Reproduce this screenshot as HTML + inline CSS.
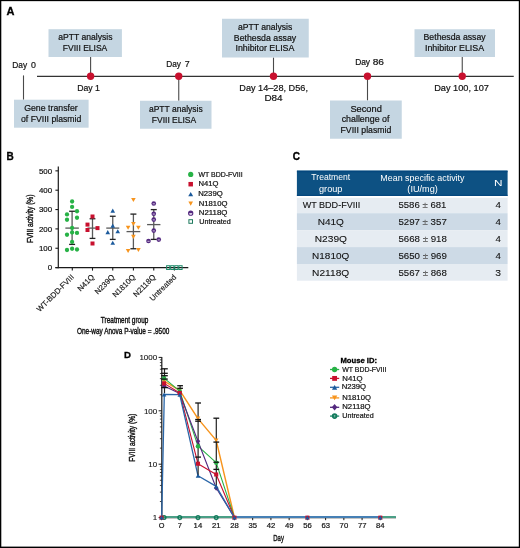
<!DOCTYPE html>
<html><head><meta charset="utf-8"><style>
html,body{margin:0;padding:0;background:#fff;}
svg{display:block;font-family:"Liberation Sans",sans-serif;will-change:transform;}
</style></head><body>
<svg width="520" height="548" viewBox="0 0 520 548">
<rect x="0" y="0" width="520" height="548" fill="#fff"/>
<text x="6.4" y="14.9" style="font-size:11px;font-weight:bold" fill="#000" stroke="#000" stroke-width="0.3">A</text>
<line x1="37" y1="76.3" x2="513.75" y2="76.3" stroke="#333" stroke-width="1.3" />
<line x1="23.5" y1="75.4" x2="23.5" y2="99.7" stroke="#4a4a4a" stroke-width="1.1" />
<line x1="90.6" y1="57" x2="90.6" y2="76.3" stroke="#4a4a4a" stroke-width="1.1" />
<line x1="178.75" y1="76.3" x2="178.75" y2="100.75" stroke="#4a4a4a" stroke-width="1.1" />
<line x1="273.5" y1="57.5" x2="273.5" y2="76.3" stroke="#4a4a4a" stroke-width="1.1" />
<line x1="367.5" y1="76.3" x2="367.5" y2="100.5" stroke="#4a4a4a" stroke-width="1.1" />
<line x1="462.25" y1="57" x2="462.25" y2="76.3" stroke="#4a4a4a" stroke-width="1.1" />
<circle cx="90.6" cy="76.3" r="3.7" fill="#c8102e"/>
<circle cx="178.75" cy="76.3" r="3.7" fill="#c8102e"/>
<circle cx="273.5" cy="76.3" r="3.7" fill="#c8102e"/>
<circle cx="367.5" cy="76.3" r="3.7" fill="#c8102e"/>
<circle cx="462.25" cy="76.3" r="3.7" fill="#c8102e"/>
<rect x="48.5" y="29.2" width="73.40" height="27.80" fill="#c5d6e2"/>
<rect x="14" y="99.7" width="74.60" height="28.00" fill="#c5d6e2"/>
<rect x="140" y="100.75" width="71.50" height="28.00" fill="#c5d6e2"/>
<rect x="222" y="18.75" width="86.75" height="38.75" fill="#c5d6e2"/>
<rect x="330" y="100.5" width="71.75" height="38.25" fill="#c5d6e2"/>
<rect x="414.5" y="29.25" width="80.50" height="27.75" fill="#c5d6e2"/>
<text x="0" y="0" transform="translate(58.16,40.40) scale(0.9662,1)" style="font-size:8.9px;" fill="#111111" stroke="#111111" stroke-width="0.2">aPTT analysis</text>
<text x="0" y="0" transform="translate(62.82,51.40) scale(0.9575,1)" style="font-size:8.9px;" fill="#111111" stroke="#111111" stroke-width="0.2">FVIII ELISA</text>
<text x="0" y="0" transform="translate(24.16,111.10) scale(0.9870,1)" style="font-size:8.9px;" fill="#111111" stroke="#111111" stroke-width="0.2">Gene transfer</text>
<text x="0" y="0" transform="translate(21.05,122.00) scale(0.9758,1)" style="font-size:8.9px;" fill="#111111" stroke="#111111" stroke-width="0.2">of FVIII plasmid</text>
<text x="0" y="0" transform="translate(148.91,112.30) scale(0.9581,1)" style="font-size:8.9px;" fill="#111111" stroke="#111111" stroke-width="0.2">aPTT analysis</text>
<text x="0" y="0" transform="translate(151.82,123.10) scale(0.9564,1)" style="font-size:8.9px;" fill="#111111" stroke="#111111" stroke-width="0.2">FVIII ELISA</text>
<text x="0" y="0" transform="translate(237.91,29.90) scale(0.9671,1)" style="font-size:8.9px;" fill="#111111" stroke="#111111" stroke-width="0.2">aPTT analysis</text>
<text x="0" y="0" transform="translate(233.80,40.55) scale(0.9862,1)" style="font-size:8.9px;" fill="#111111" stroke="#111111" stroke-width="0.2">Bethesda assay</text>
<text x="0" y="0" transform="translate(235.45,51.20) scale(0.9947,1)" style="font-size:8.9px;" fill="#111111" stroke="#111111" stroke-width="0.2">Inhibitor ELISA</text>
<text x="0" y="0" transform="translate(350.38,111.90) scale(1.0431,1)" style="font-size:8.9px;" fill="#111111" stroke="#111111" stroke-width="0.2">Second</text>
<text x="0" y="0" transform="translate(341.65,122.45) scale(0.9967,1)" style="font-size:8.9px;" fill="#111111" stroke="#111111" stroke-width="0.2">challenge of</text>
<text x="0" y="0" transform="translate(340.55,133.00) scale(0.9775,1)" style="font-size:8.9px;" fill="#111111" stroke="#111111" stroke-width="0.2">FVIII plasmid</text>
<text x="0" y="0" transform="translate(423.55,40.30) scale(0.9822,1)" style="font-size:8.9px;" fill="#111111" stroke="#111111" stroke-width="0.2">Bethesda assay</text>
<text x="0" y="0" transform="translate(424.95,51.25) scale(0.9989,1)" style="font-size:8.9px;" fill="#111111" stroke="#111111" stroke-width="0.2">Inhibitor ELISA</text>
<text x="0" y="0" transform="translate(12.23,67.85) scale(0.8982,1)" style="font-size:9.3px;" fill="#111111" stroke="#111111" stroke-width="0.2">Day</text>
<text x="0" y="0" transform="translate(77.20,90.70) scale(0.9393,1)" style="font-size:9.3px;" fill="#111111" stroke="#111111" stroke-width="0.2">Day</text>
<text x="0" y="0" transform="translate(166.24,67.40) scale(0.8887,1)" style="font-size:9.3px;" fill="#111111" stroke="#111111" stroke-width="0.2">Day</text>
<text x="0" y="0" transform="translate(355.13,65.35) scale(0.9045,1)" style="font-size:9.3px;" fill="#111111" stroke="#111111" stroke-width="0.2">Day</text>
<text x="0" y="0" transform="translate(372.64,65.35) scale(1.0910,1)" style="font-size:9.3px;" fill="#111111" stroke="#111111" stroke-width="0.2">86</text>
<text x="0" y="0" transform="translate(239.27,90.80) scale(0.9851,1)" style="font-size:9.3px;" fill="#111111" stroke="#111111" stroke-width="0.2">Day 14–28, D56,</text>
<text x="0" y="0" transform="translate(264.41,101.40) scale(1.0659,1)" style="font-size:9.3px;" fill="#111111" stroke="#111111" stroke-width="0.2">D84</text>
<text x="0" y="0" transform="translate(434.16,90.50) scale(0.9903,1)" style="font-size:9.3px;" fill="#111111" stroke="#111111" stroke-width="0.2">Day 100, 107</text>
<text x="0" y="0" transform="translate(30.93,67.85) scale(0.9500,1)" style="font-size:9.3px;" fill="#111111" stroke="#111111" stroke-width="0.2">0</text>
<text x="0" y="0" transform="translate(95.02,90.70) scale(0.9500,1)" style="font-size:9.3px;" fill="#111111" stroke="#111111" stroke-width="0.2">1</text>
<text x="0" y="0" transform="translate(184.65,67.40) scale(0.9500,1)" style="font-size:9.3px;" fill="#111111" stroke="#111111" stroke-width="0.2">7</text>
<text x="6.6" y="160.1" style="font-size:10px;font-weight:bold" fill="#000" stroke="#000" stroke-width="0.3">B</text>
<line x1="58.3" y1="166.5" x2="58.3" y2="268.20000000000005" stroke="#1a1a1a" stroke-width="1.2" />
<line x1="55.4" y1="267.6" x2="58.3" y2="267.6" stroke="#1a1a1a" stroke-width="1.1" />
<text x="0" y="0" transform="translate(47.69,270.35) scale(1.0000,1)" style="font-size:7.9px;" fill="#111111" stroke="#111111" stroke-width="0.2">0</text>
<line x1="55.4" y1="248.25000000000003" x2="58.3" y2="248.25000000000003" stroke="#1a1a1a" stroke-width="1.1" />
<text x="0" y="0" transform="translate(38.92,251.00) scale(1.0000,1)" style="font-size:7.9px;" fill="#111111" stroke="#111111" stroke-width="0.2">100</text>
<line x1="55.4" y1="228.90000000000003" x2="58.3" y2="228.90000000000003" stroke="#1a1a1a" stroke-width="1.1" />
<text x="0" y="0" transform="translate(38.92,231.65) scale(1.0000,1)" style="font-size:7.9px;" fill="#111111" stroke="#111111" stroke-width="0.2">200</text>
<line x1="55.4" y1="209.55" x2="58.3" y2="209.55" stroke="#1a1a1a" stroke-width="1.1" />
<text x="0" y="0" transform="translate(38.92,212.30) scale(1.0000,1)" style="font-size:7.9px;" fill="#111111" stroke="#111111" stroke-width="0.2">300</text>
<line x1="55.4" y1="190.20000000000002" x2="58.3" y2="190.20000000000002" stroke="#1a1a1a" stroke-width="1.1" />
<text x="0" y="0" transform="translate(38.92,192.95) scale(1.0000,1)" style="font-size:7.9px;" fill="#111111" stroke="#111111" stroke-width="0.2">400</text>
<line x1="55.4" y1="170.85000000000002" x2="58.3" y2="170.85000000000002" stroke="#1a1a1a" stroke-width="1.1" />
<text x="0" y="0" transform="translate(38.92,173.60) scale(1.0000,1)" style="font-size:7.9px;" fill="#111111" stroke="#111111" stroke-width="0.2">500</text>
<line x1="55.4" y1="267.6" x2="188.3" y2="267.6" stroke="#1a1a1a" stroke-width="1.2" />
<line x1="72.3" y1="267.6" x2="72.3" y2="270.6" stroke="#1a1a1a" stroke-width="1.1" />
<line x1="92.5" y1="267.6" x2="92.5" y2="270.6" stroke="#1a1a1a" stroke-width="1.1" />
<line x1="112.75" y1="267.6" x2="112.75" y2="270.6" stroke="#1a1a1a" stroke-width="1.1" />
<line x1="133.4" y1="267.6" x2="133.4" y2="270.6" stroke="#1a1a1a" stroke-width="1.1" />
<line x1="153.75" y1="267.6" x2="153.75" y2="270.6" stroke="#1a1a1a" stroke-width="1.1" />
<line x1="174.4" y1="267.6" x2="174.4" y2="270.6" stroke="#1a1a1a" stroke-width="1.1" />
<line x1="72.1" y1="211.25" x2="72.1" y2="244.4" stroke="#5a5a5a" stroke-width="1.3" />
<line x1="65.35" y1="228.1" x2="78.85" y2="228.1" stroke="#5a5a5a" stroke-width="1.3" />
<line x1="69.1" y1="211.25" x2="75.1" y2="211.25" stroke="#222" stroke-width="1.3" />
<line x1="69.1" y1="244.4" x2="75.1" y2="244.4" stroke="#222" stroke-width="1.3" />
<circle cx="72.1" cy="201.5" r="2.15" fill="#27b246"/>
<circle cx="72.1" cy="206.9" r="2.15" fill="#27b246"/>
<circle cx="77" cy="211.25" r="2.15" fill="#27b246"/>
<circle cx="67" cy="214.4" r="2.15" fill="#27b246"/>
<circle cx="77" cy="217.75" r="2.15" fill="#27b246"/>
<circle cx="67" cy="219.75" r="2.15" fill="#27b246"/>
<circle cx="72.1" cy="227.9" r="2.15" fill="#27b246"/>
<circle cx="72.1" cy="232.5" r="2.15" fill="#27b246"/>
<circle cx="77" cy="232.9" r="2.15" fill="#27b246"/>
<circle cx="67" cy="234.75" r="2.15" fill="#27b246"/>
<circle cx="72.1" cy="241.9" r="2.15" fill="#27b246"/>
<circle cx="67" cy="250" r="2.15" fill="#27b246"/>
<circle cx="72.1" cy="248.75" r="2.15" fill="#27b246"/>
<circle cx="77" cy="249.5" r="2.15" fill="#27b246"/>
<line x1="92.5" y1="218.75" x2="92.5" y2="238.4" stroke="#5a5a5a" stroke-width="1.3" />
<line x1="87.5" y1="228.1" x2="97.5" y2="228.1" stroke="#5a5a5a" stroke-width="1.3" />
<line x1="89.6" y1="218.75" x2="95.4" y2="218.75" stroke="#222" stroke-width="1.3" />
<line x1="89.6" y1="238.4" x2="95.4" y2="238.4" stroke="#222" stroke-width="1.3" />
<rect x="90.5" y="214.5" width="4" height="4" fill="#c8102e"/>
<rect x="85.5" y="222.6" width="4" height="4" fill="#c8102e"/>
<rect x="85.5" y="228" width="4" height="4" fill="#c8102e"/>
<rect x="95.5" y="226.1" width="4" height="4" fill="#c8102e"/>
<rect x="90.5" y="241.5" width="4" height="4" fill="#c8102e"/>
<line x1="112.75" y1="216.25" x2="112.75" y2="239.4" stroke="#5a5a5a" stroke-width="1.3" />
<line x1="106.25" y1="228.1" x2="119.25" y2="228.1" stroke="#5a5a5a" stroke-width="1.3" />
<line x1="109.85" y1="216.25" x2="115.65" y2="216.25" stroke="#222" stroke-width="1.3" />
<line x1="109.85" y1="239.4" x2="115.65" y2="239.4" stroke="#222" stroke-width="1.3" />
<polygon points="110.45,212.67 115.05,212.67 112.75,208.53" fill="#1b5a9c"/>
<polygon points="110.45,227.67 115.05,227.67 112.75,223.53" fill="#1b5a9c"/>
<polygon points="105.45,234.17 110.05,234.17 107.75,230.03" fill="#1b5a9c"/>
<polygon points="115.45,233.32 120.05,233.32 117.75,229.18" fill="#1b5a9c"/>
<polygon points="110.45,244.82 115.05,244.82 112.75,240.68" fill="#1b5a9c"/>
<line x1="133.4" y1="214.1" x2="133.4" y2="248.75" stroke="#5a5a5a" stroke-width="1.3" />
<line x1="126.525" y1="231.6" x2="140.275" y2="231.6" stroke="#5a5a5a" stroke-width="1.3" />
<line x1="130.4" y1="214.1" x2="136.4" y2="214.1" stroke="#222" stroke-width="1.3" />
<line x1="130.4" y1="248.75" x2="136.4" y2="248.75" stroke="#222" stroke-width="1.3" />
<polygon points="131.1,197.93 135.70000000000002,197.93 133.4,202.07" fill="#f7941d"/>
<polygon points="131.1,221.93 135.70000000000002,221.93 133.4,226.07" fill="#f7941d"/>
<polygon points="125.8,225.68 130.4,225.68 128.1,229.82" fill="#f7941d"/>
<polygon points="136.1,225.68 140.70000000000002,225.68 138.4,229.82" fill="#f7941d"/>
<polygon points="131.1,234.83 135.70000000000002,234.83 133.4,238.97" fill="#f7941d"/>
<polygon points="125.8,248.93 130.4,248.93 128.1,253.07" fill="#f7941d"/>
<polygon points="136.1,247.93 140.70000000000002,247.93 138.4,252.07" fill="#f7941d"/>
<line x1="153.75" y1="209.6" x2="153.75" y2="239.4" stroke="#5a5a5a" stroke-width="1.3" />
<line x1="147.075" y1="224.6" x2="160.425" y2="224.6" stroke="#5a5a5a" stroke-width="1.3" />
<line x1="150.75" y1="209.6" x2="156.75" y2="209.6" stroke="#222" stroke-width="1.3" />
<line x1="150.75" y1="239.4" x2="156.75" y2="239.4" stroke="#222" stroke-width="1.3" />
<circle cx="153.75" cy="203.5" r="2.3" fill="#53287f"/>
<line x1="152.65" y1="203.8" x2="154.85" y2="203.8" stroke="#e8e0f0" stroke-width="0.8"/>
<circle cx="153.75" cy="213.75" r="2.3" fill="#53287f"/>
<line x1="152.65" y1="214.05" x2="154.85" y2="214.05" stroke="#e8e0f0" stroke-width="0.8"/>
<circle cx="153.75" cy="219.6" r="2.3" fill="#53287f"/>
<line x1="152.65" y1="219.9" x2="154.85" y2="219.9" stroke="#e8e0f0" stroke-width="0.8"/>
<circle cx="153.75" cy="230.6" r="2.3" fill="#53287f"/>
<line x1="152.65" y1="230.9" x2="154.85" y2="230.9" stroke="#e8e0f0" stroke-width="0.8"/>
<circle cx="148.5" cy="241" r="2.3" fill="#53287f"/>
<line x1="147.4" y1="241.3" x2="149.6" y2="241.3" stroke="#e8e0f0" stroke-width="0.8"/>
<circle cx="158.75" cy="239.6" r="2.3" fill="#53287f"/>
<line x1="157.65" y1="239.9" x2="159.85" y2="239.9" stroke="#e8e0f0" stroke-width="0.8"/>
<rect x="166.6" y="265.70000000000005" width="3.2" height="3.8" fill="none" stroke="#1e8a6a" stroke-width="1"/>
<rect x="170.70000000000002" y="265.70000000000005" width="3.2" height="3.8" fill="none" stroke="#1e8a6a" stroke-width="1"/>
<rect x="174.8" y="265.70000000000005" width="3.2" height="3.8" fill="none" stroke="#1e8a6a" stroke-width="1"/>
<rect x="178.9" y="265.70000000000005" width="3.2" height="3.8" fill="none" stroke="#1e8a6a" stroke-width="1"/>
<text x="0" y="0" transform="translate(74.6,277.6) rotate(-45)" text-anchor="end" style="font-size:7.7px" fill="#111111" stroke="#1a1a1a" stroke-width="0.15">WT-BDD-FVIII</text>
<text x="0" y="0" transform="translate(94.8,277.6) rotate(-45)" text-anchor="end" style="font-size:7.7px" fill="#111111" stroke="#1a1a1a" stroke-width="0.15">N41Q</text>
<text x="0" y="0" transform="translate(115.05,277.6) rotate(-45)" text-anchor="end" style="font-size:7.7px" fill="#111111" stroke="#1a1a1a" stroke-width="0.15">N239Q</text>
<text x="0" y="0" transform="translate(135.70000000000002,277.6) rotate(-45)" text-anchor="end" style="font-size:7.7px" fill="#111111" stroke="#1a1a1a" stroke-width="0.15">N1810Q</text>
<text x="0" y="0" transform="translate(156.05,277.6) rotate(-45)" text-anchor="end" style="font-size:7.7px" fill="#111111" stroke="#1a1a1a" stroke-width="0.15">N2118Q</text>
<text x="0" y="0" transform="translate(176.70000000000002,277.6) rotate(-45)" text-anchor="end" style="font-size:7.7px" fill="#111111" stroke="#1a1a1a" stroke-width="0.15">Untreated</text>
<circle cx="190.7" cy="174.4" r="2.6" fill="#27b246"/>
<rect x="188.45" y="181.95" width="4.5" height="4.5" fill="#c8102e"/>
<polygon points="188.25,196.305 193.14999999999998,196.305 190.7,191.89499999999998" fill="#1b5a9c"/>
<polygon points="188.35,201.48499999999999 193.04999999999998,201.48499999999999 190.7,205.715" fill="#f7941d"/>
<circle cx="190.7" cy="213.2" r="2.1" fill="#fff" stroke="#53287f" stroke-width="1.1"/>
<path d="M188.6,213.3 A2.1,2.1 0 0 1 192.79999999999998,213.3 Z" fill="#53287f"/>
<rect x="188.89999999999998" y="219.7" width="3.6" height="3.6" fill="none" stroke="#1e7a5e" stroke-width="1.0"/>
<text x="0" y="0" transform="translate(198.47,176.50) scale(1.0226,1)" style="font-size:6.8px;" fill="#111111" stroke="#111111" stroke-width="0.2">WT BDD-FVIII</text>
<text x="0" y="0" transform="translate(198.59,186.10) scale(1.1244,1)" style="font-size:6.8px;" fill="#111111" stroke="#111111" stroke-width="0.2">N41Q</text>
<text x="0" y="0" transform="translate(198.18,195.90) scale(1.1416,1)" style="font-size:6.8px;" fill="#111111" stroke="#111111" stroke-width="0.2">N239Q</text>
<text x="0" y="0" transform="translate(198.79,205.80) scale(1.1290,1)" style="font-size:6.8px;" fill="#111111" stroke="#111111" stroke-width="0.2">N1810Q</text>
<text x="0" y="0" transform="translate(198.77,215.30) scale(1.1514,1)" style="font-size:6.8px;" fill="#111111" stroke="#111111" stroke-width="0.2">N2118Q</text>
<text x="0" y="0" transform="translate(199.37,224.00) scale(1.0484,1)" style="font-size:6.8px;" fill="#111111" stroke="#111111" stroke-width="0.2">Untreated</text>
<text x="0" y="0" transform="translate(100.87,323.30) scale(0.7421,1)" style="font-size:8.7px;" fill="#111111" stroke="#111111" stroke-width="0.4">Treatment group</text>
<text x="0" y="0" transform="translate(77.01,334.30) scale(0.7392,1)" style="font-size:8.7px;" fill="#111111" stroke="#111111" stroke-width="0.4">One-way Anova P-value = .9500</text>
<g transform="translate(32.9,218.65) rotate(-90)"><text x="0" y="0" transform="scale(0.7565,1) translate(-32.10,0)" style="font-size:8.8px" fill="#111111" stroke="#111111" stroke-width="0.4">FVIII activity (%)</text></g>
<text x="292.8" y="160" style="font-size:10px;font-weight:bold" fill="#000" stroke="#000" stroke-width="0.35">C</text>
<rect x="296.9" y="170.4" width="210.70" height="25.60" fill="#0d5183"/>
<rect x="296.9" y="171.2" width="210.70" height="1.00" fill="#03457d"/>
<rect x="296.9" y="194.8" width="210.70" height="1.00" fill="#03457d"/>
<rect x="296.9" y="196.0" width="210.70" height="17.20" fill="#e6ecf2"/>
<rect x="296.9" y="213.2" width="210.70" height="17.00" fill="#cddae6"/>
<rect x="296.9" y="230.2" width="210.70" height="16.90" fill="#e6ecf2"/>
<rect x="296.9" y="247.1" width="210.70" height="16.90" fill="#cddae6"/>
<rect x="296.9" y="264.0" width="210.70" height="16.70" fill="#e6ecf2"/>
<rect x="296.9" y="196.0" width="210.70" height="1.80" fill="#ffffff"/>
<text x="0" y="0" transform="translate(311.33,180.40) scale(0.9169,1)" style="font-size:9.4px;" fill="#fff" >Treatment</text>
<text x="0" y="0" transform="translate(319.03,191.60) scale(0.9757,1)" style="font-size:9.4px;" fill="#fff" >group</text>
<text x="0" y="0" transform="translate(380.29,180.50) scale(0.9492,1)" style="font-size:9.4px;" fill="#fff" >Mean specific activity</text>
<text x="0" y="0" transform="translate(407.35,191.50) scale(0.9743,1)" style="font-size:9.4px;" fill="#fff" >(IU/mg)</text>
<text x="0" y="0" transform="translate(493.96,186.40) scale(1.2538,1)" style="font-size:9.4px;" fill="#fff" >N</text>
<text x="0" y="0" transform="translate(302.65,207.70) scale(0.9620,1)" style="font-size:9.4px;" fill="#111111" stroke="#111" stroke-width="0.1">WT BDD-FVIII</text>
<text x="0" y="0" transform="translate(398.42,207.70) scale(1.0227,1)" style="font-size:9.4px;" fill="#111111" stroke="#111" stroke-width="0.1">5586 <tspan fill="#808080">±</tspan> 681</text>
<text x="0" y="0" transform="translate(495.51,207.70) scale(1.0322,1)" style="font-size:9.4px;" fill="#111111" stroke="#111" stroke-width="0.1">4</text>
<text x="0" y="0" transform="translate(317.70,224.65) scale(1.0703,1)" style="font-size:9.4px;" fill="#111111" stroke="#111" stroke-width="0.1">N41Q</text>
<text x="0" y="0" transform="translate(398.41,224.65) scale(1.0302,1)" style="font-size:9.4px;" fill="#111111" stroke="#111" stroke-width="0.1">5297 <tspan fill="#808080">±</tspan> 357</text>
<text x="0" y="0" transform="translate(495.51,224.65) scale(1.0322,1)" style="font-size:9.4px;" fill="#111111" stroke="#111" stroke-width="0.1">4</text>
<text x="0" y="0" transform="translate(314.79,241.60) scale(1.0813,1)" style="font-size:9.4px;" fill="#111111" stroke="#111" stroke-width="0.1">N239Q</text>
<text x="0" y="0" transform="translate(398.41,241.60) scale(1.0324,1)" style="font-size:9.4px;" fill="#111111" stroke="#111" stroke-width="0.1">5668 <tspan fill="#808080">±</tspan> 918</text>
<text x="0" y="0" transform="translate(495.51,241.60) scale(1.0322,1)" style="font-size:9.4px;" fill="#111111" stroke="#111" stroke-width="0.1">4</text>
<text x="0" y="0" transform="translate(312.10,258.55) scale(1.0624,1)" style="font-size:9.4px;" fill="#111111" stroke="#111" stroke-width="0.1">N1810Q</text>
<text x="0" y="0" transform="translate(398.41,258.55) scale(1.0335,1)" style="font-size:9.4px;" fill="#111111" stroke="#111" stroke-width="0.1">5650 <tspan fill="#808080">±</tspan> 969</text>
<text x="0" y="0" transform="translate(495.51,258.55) scale(1.0322,1)" style="font-size:9.4px;" fill="#111111" stroke="#111" stroke-width="0.1">4</text>
<text x="0" y="0" transform="translate(312.09,275.50) scale(1.0834,1)" style="font-size:9.4px;" fill="#111111" stroke="#111" stroke-width="0.1">N2118Q</text>
<text x="0" y="0" transform="translate(398.41,275.50) scale(1.0324,1)" style="font-size:9.4px;" fill="#111111" stroke="#111" stroke-width="0.1">5567 <tspan fill="#808080">±</tspan> 868</text>
<text x="0" y="0" transform="translate(495.29,275.50) scale(1.0974,1)" style="font-size:9.4px;" fill="#111111" stroke="#111" stroke-width="0.1">3</text>
<text x="124.1" y="357.5" style="font-size:9.6px;font-weight:bold" fill="#000" stroke="#000" stroke-width="0.3">D</text>
<line x1="161.8" y1="357" x2="161.8" y2="517.6" stroke="#1a1a1a" stroke-width="1.2" />
<line x1="158.6" y1="517.6" x2="161.8" y2="517.6" stroke="#1a1a1a" stroke-width="1.0" />
<line x1="158.6" y1="464.20000000000005" x2="161.8" y2="464.20000000000005" stroke="#1a1a1a" stroke-width="1.0" />
<line x1="158.6" y1="410.8" x2="161.8" y2="410.8" stroke="#1a1a1a" stroke-width="1.0" />
<line x1="158.6" y1="357.40000000000003" x2="161.8" y2="357.40000000000003" stroke="#1a1a1a" stroke-width="1.0" />
<line x1="159.9" y1="501.5249982315434" x2="161.8" y2="501.5249982315434" stroke="#1a1a1a" stroke-width="0.8" />
<line x1="159.9" y1="492.12172499797003" x2="161.8" y2="492.12172499797003" stroke="#1a1a1a" stroke-width="0.8" />
<line x1="159.9" y1="485.44999646308685" x2="161.8" y2="485.44999646308685" stroke="#1a1a1a" stroke-width="0.8" />
<line x1="159.9" y1="480.2750017684566" x2="161.8" y2="480.2750017684566" stroke="#1a1a1a" stroke-width="0.8" />
<line x1="159.9" y1="476.0467232295135" x2="161.8" y2="476.0467232295135" stroke="#1a1a1a" stroke-width="0.8" />
<line x1="159.9" y1="472.47176466323873" x2="161.8" y2="472.47176466323873" stroke="#1a1a1a" stroke-width="0.8" />
<line x1="159.9" y1="469.37499469463023" x2="161.8" y2="469.37499469463023" stroke="#1a1a1a" stroke-width="0.8" />
<line x1="159.9" y1="466.64344999594005" x2="161.8" y2="466.64344999594005" stroke="#1a1a1a" stroke-width="0.8" />
<line x1="159.9" y1="448.12499823154343" x2="161.8" y2="448.12499823154343" stroke="#1a1a1a" stroke-width="0.8" />
<line x1="159.9" y1="438.72172499797006" x2="161.8" y2="438.72172499797006" stroke="#1a1a1a" stroke-width="0.8" />
<line x1="159.9" y1="432.0499964630868" x2="161.8" y2="432.0499964630868" stroke="#1a1a1a" stroke-width="0.8" />
<line x1="159.9" y1="426.8750017684566" x2="161.8" y2="426.8750017684566" stroke="#1a1a1a" stroke-width="0.8" />
<line x1="159.9" y1="422.64672322951344" x2="161.8" y2="422.64672322951344" stroke="#1a1a1a" stroke-width="0.8" />
<line x1="159.9" y1="419.0717646632387" x2="161.8" y2="419.0717646632387" stroke="#1a1a1a" stroke-width="0.8" />
<line x1="159.9" y1="415.97499469463025" x2="161.8" y2="415.97499469463025" stroke="#1a1a1a" stroke-width="0.8" />
<line x1="159.9" y1="413.24344999594007" x2="161.8" y2="413.24344999594007" stroke="#1a1a1a" stroke-width="0.8" />
<line x1="159.9" y1="394.7249982315434" x2="161.8" y2="394.7249982315434" stroke="#1a1a1a" stroke-width="0.8" />
<line x1="159.9" y1="385.32172499797" x2="161.8" y2="385.32172499797" stroke="#1a1a1a" stroke-width="0.8" />
<line x1="159.9" y1="378.64999646308684" x2="161.8" y2="378.64999646308684" stroke="#1a1a1a" stroke-width="0.8" />
<line x1="159.9" y1="373.47500176845665" x2="161.8" y2="373.47500176845665" stroke="#1a1a1a" stroke-width="0.8" />
<line x1="159.9" y1="369.24672322951346" x2="161.8" y2="369.24672322951346" stroke="#1a1a1a" stroke-width="0.8" />
<line x1="159.9" y1="365.6717646632387" x2="161.8" y2="365.6717646632387" stroke="#1a1a1a" stroke-width="0.8" />
<line x1="159.9" y1="362.5749946946302" x2="161.8" y2="362.5749946946302" stroke="#1a1a1a" stroke-width="0.8" />
<line x1="159.9" y1="359.8434499959401" x2="161.8" y2="359.8434499959401" stroke="#1a1a1a" stroke-width="0.8" />
<text x="0" y="0" transform="translate(139.42,360.10) scale(1.0500,1)" style="font-size:7.6px;" fill="#111111" stroke="#111" stroke-width="0.1">1000</text>
<text x="0" y="0" transform="translate(143.89,413.50) scale(1.0500,1)" style="font-size:7.6px;" fill="#111111" stroke="#111" stroke-width="0.1">100</text>
<text x="0" y="0" transform="translate(148.32,466.90) scale(1.0500,1)" style="font-size:7.6px;" fill="#111111" stroke="#111" stroke-width="0.1">10</text>
<text x="0" y="0" transform="translate(152.83,520.30) scale(1.0500,1)" style="font-size:7.6px;" fill="#111111" stroke="#111" stroke-width="0.1">1</text>
<line x1="161.5" y1="517.6" x2="396" y2="517.6" stroke="#1a1a1a" stroke-width="1.2" />
<line x1="161.5" y1="517.6" x2="161.5" y2="520.2" stroke="#1a1a1a" stroke-width="1.0" />
<line x1="179.735" y1="517.6" x2="179.735" y2="520.2" stroke="#1a1a1a" stroke-width="1.0" />
<line x1="197.97" y1="517.6" x2="197.97" y2="520.2" stroke="#1a1a1a" stroke-width="1.0" />
<line x1="216.20499999999998" y1="517.6" x2="216.20499999999998" y2="520.2" stroke="#1a1a1a" stroke-width="1.0" />
<line x1="234.44" y1="517.6" x2="234.44" y2="520.2" stroke="#1a1a1a" stroke-width="1.0" />
<line x1="252.675" y1="517.6" x2="252.675" y2="520.2" stroke="#1a1a1a" stroke-width="1.0" />
<line x1="270.90999999999997" y1="517.6" x2="270.90999999999997" y2="520.2" stroke="#1a1a1a" stroke-width="1.0" />
<line x1="289.145" y1="517.6" x2="289.145" y2="520.2" stroke="#1a1a1a" stroke-width="1.0" />
<line x1="307.38" y1="517.6" x2="307.38" y2="520.2" stroke="#1a1a1a" stroke-width="1.0" />
<line x1="325.615" y1="517.6" x2="325.615" y2="520.2" stroke="#1a1a1a" stroke-width="1.0" />
<line x1="343.85" y1="517.6" x2="343.85" y2="520.2" stroke="#1a1a1a" stroke-width="1.0" />
<line x1="362.08500000000004" y1="517.6" x2="362.08500000000004" y2="520.2" stroke="#1a1a1a" stroke-width="1.0" />
<line x1="380.32" y1="517.6" x2="380.32" y2="520.2" stroke="#1a1a1a" stroke-width="1.0" />
<text x="0" y="0" transform="translate(158.75,528.40) scale(1.0500,1)" style="font-size:7.0px;" fill="#111111" stroke="#1a1a1a" stroke-width="0.2">O</text>
<text x="0" y="0" transform="translate(177.70,528.40) scale(1.1000,1)" style="font-size:7.0px;" fill="#111111" stroke="#1a1a1a" stroke-width="0.2">7</text>
<text x="0" y="0" transform="translate(193.62,528.40) scale(1.1000,1)" style="font-size:7.0px;" fill="#111111" stroke="#1a1a1a" stroke-width="0.2">14</text>
<text x="0" y="0" transform="translate(212.01,528.40) scale(1.1000,1)" style="font-size:7.0px;" fill="#111111" stroke="#1a1a1a" stroke-width="0.2">21</text>
<text x="0" y="0" transform="translate(230.23,528.40) scale(1.1000,1)" style="font-size:7.0px;" fill="#111111" stroke="#1a1a1a" stroke-width="0.2">28</text>
<text x="0" y="0" transform="translate(248.50,528.40) scale(1.1000,1)" style="font-size:7.0px;" fill="#111111" stroke="#1a1a1a" stroke-width="0.2">35</text>
<text x="0" y="0" transform="translate(266.85,528.40) scale(1.1000,1)" style="font-size:7.0px;" fill="#111111" stroke="#1a1a1a" stroke-width="0.2">42</text>
<text x="0" y="0" transform="translate(285.07,528.40) scale(1.1000,1)" style="font-size:7.0px;" fill="#111111" stroke="#1a1a1a" stroke-width="0.2">49</text>
<text x="0" y="0" transform="translate(303.21,528.40) scale(1.1000,1)" style="font-size:7.0px;" fill="#111111" stroke="#1a1a1a" stroke-width="0.2">56</text>
<text x="0" y="0" transform="translate(321.40,528.40) scale(1.1000,1)" style="font-size:7.0px;" fill="#111111" stroke="#1a1a1a" stroke-width="0.2">63</text>
<text x="0" y="0" transform="translate(339.62,528.40) scale(1.1000,1)" style="font-size:7.0px;" fill="#111111" stroke="#1a1a1a" stroke-width="0.2">70</text>
<text x="0" y="0" transform="translate(357.91,528.40) scale(1.1000,1)" style="font-size:7.0px;" fill="#111111" stroke="#1a1a1a" stroke-width="0.2">77</text>
<text x="0" y="0" transform="translate(376.09,528.40) scale(1.1000,1)" style="font-size:7.0px;" fill="#111111" stroke="#1a1a1a" stroke-width="0.2">84</text>
<text x="0" y="0" transform="translate(273.22,540.90) scale(0.6742,1)" style="font-size:8.9px;" fill="#111111" stroke="#1a1a1a" stroke-width="0.4">Day</text>
<g transform="translate(135.3,437.7) rotate(-90)"><text x="0" y="0" transform="scale(0.7660,1) translate(-31.37,0)" style="font-size:8.6px" fill="#111111" stroke="#111111" stroke-width="0.4">FVIII activity (%)</text></g>
<polyline points="161.50,517.00 395.95,517.00" fill="none" stroke="#4a9f86" stroke-width="1.9" stroke-linejoin="round"/>
<polyline points="234.44,517.00 380.32,517.00" fill="none" stroke="#4680b5" stroke-width="1.9" stroke-linejoin="round"/>
<polyline points="164.10,381.20 179.74,390.30 197.97,418.60 216.20,440.40 234.44,517.60" fill="none" stroke="#f7941d" stroke-width="1.45" stroke-linejoin="round"/>
<polyline points="164.10,378.20 179.74,391.20 197.97,446.20 216.20,462.70 234.44,517.60" fill="none" stroke="#27b246" stroke-width="1.1" stroke-linejoin="round"/>
<polyline points="164.10,385.90 179.74,393.50 197.97,441.20 216.20,488.00 234.44,517.60" fill="none" stroke="#53287f" stroke-width="1.1" stroke-linejoin="round"/>
<polyline points="164.10,383.40 179.74,393.00 197.97,463.70 216.20,474.50 234.44,517.60" fill="none" stroke="#c8102e" stroke-width="1.1" stroke-linejoin="round"/>
<polyline points="161.70,517.60 164.30,394.50 179.74,394.60 197.97,475.70 216.20,486.40 234.44,517.60" fill="none" stroke="#2a66a8" stroke-width="1.3" stroke-linejoin="round"/>
<line x1="164.5" y1="368.8" x2="164.5" y2="393" stroke="#222" stroke-width="1.2" />
<line x1="180.1" y1="385.7" x2="180.1" y2="391" stroke="#222" stroke-width="1.2" />
<line x1="198.1" y1="403" x2="198.1" y2="475" stroke="#222" stroke-width="1.2" />
<line x1="216.3" y1="418.2" x2="216.3" y2="488" stroke="#222" stroke-width="1.2" />
<polygon points="161.855,379.175 166.355,379.175 164.105,383.22499999999997" fill="#f7941d"/>
<polygon points="177.485,388.27500000000003 181.985,388.27500000000003 179.735,392.325" fill="#f7941d"/>
<polygon points="195.72,416.57500000000005 200.22,416.57500000000005 197.97,420.625" fill="#f7941d"/>
<polygon points="213.95499999999998,438.375 218.45499999999998,438.375 216.20499999999998,442.42499999999995" fill="#f7941d"/>
<circle cx="164.105" cy="378.2" r="2.25" fill="#27b246"/>
<circle cx="179.735" cy="391.2" r="2.25" fill="#27b246"/>
<circle cx="197.97" cy="446.2" r="2.25" fill="#27b246"/>
<circle cx="216.20499999999998" cy="462.7" r="2.25" fill="#27b246"/>
<polygon points="164.105,383.09999999999997 166.405,385.9 164.105,388.7 161.80499999999998,385.9" fill="#53287f"/>
<polygon points="179.735,390.7 182.03500000000003,393.5 179.735,396.3 177.435,393.5" fill="#53287f"/>
<polygon points="197.97,438.4 200.27,441.2 197.97,444.0 195.67,441.2" fill="#53287f"/>
<polygon points="216.20499999999998,485.2 218.505,488 216.20499999999998,490.8 213.90499999999997,488" fill="#53287f"/>
<rect x="162.05499999999998" y="381.34999999999997" width="4.1" height="4.1" fill="#c8102e"/>
<rect x="177.685" y="390.95" width="4.1" height="4.1" fill="#c8102e"/>
<rect x="195.92" y="461.65" width="4.1" height="4.1" fill="#c8102e"/>
<rect x="214.15499999999997" y="472.45" width="4.1" height="4.1" fill="#c8102e"/>
<polygon points="161.855,396.525 166.355,396.525 164.105,392.475" fill="#1b5a9c"/>
<polygon points="177.485,396.625 181.985,396.625 179.735,392.57500000000005" fill="#1b5a9c"/>
<polygon points="195.72,477.72499999999997 200.22,477.72499999999997 197.97,473.675" fill="#1b5a9c"/>
<polygon points="213.95499999999998,488.42499999999995 218.45499999999998,488.42499999999995 216.20499999999998,484.375" fill="#1b5a9c"/>
<line x1="161.2" y1="368.8" x2="167.8" y2="368.8" stroke="#111" stroke-width="1.3" />
<line x1="161.2" y1="373.3" x2="167.8" y2="373.3" stroke="#111" stroke-width="1.3" />
<line x1="161.2" y1="375.7" x2="167.8" y2="375.7" stroke="#111" stroke-width="1.3" />
<line x1="161.2" y1="379.1" x2="167.8" y2="379.1" stroke="#111" stroke-width="1.3" />
<line x1="161.2" y1="387.6" x2="167.8" y2="387.6" stroke="#111" stroke-width="1.3" />
<line x1="177.25" y1="385.7" x2="182.95" y2="385.7" stroke="#111" stroke-width="1.3" />
<line x1="177.25" y1="388.3" x2="182.95" y2="388.3" stroke="#111" stroke-width="1.3" />
<line x1="195.2" y1="403" x2="201.0" y2="403" stroke="#111" stroke-width="1.3" />
<line x1="195.2" y1="419.5" x2="201.0" y2="419.5" stroke="#111" stroke-width="1.3" />
<line x1="195.2" y1="421.2" x2="201.0" y2="421.2" stroke="#111" stroke-width="1.3" />
<line x1="195.2" y1="457.1" x2="201.0" y2="457.1" stroke="#111" stroke-width="1.3" />
<line x1="213.4" y1="418.2" x2="219.20000000000002" y2="418.2" stroke="#111" stroke-width="1.3" />
<line x1="213.4" y1="442.1" x2="219.20000000000002" y2="442.1" stroke="#111" stroke-width="1.3" />
<line x1="213.4" y1="462.2" x2="219.20000000000002" y2="462.2" stroke="#111" stroke-width="1.3" />
<line x1="213.4" y1="469.4" x2="219.20000000000002" y2="469.4" stroke="#111" stroke-width="1.3" />
<circle cx="164.105" cy="517.6" r="2.5" fill="#137a5c"/>
<rect x="163.41" y="516.60" width="1.4" height="0.7" fill="#9fd0bf"/>
<rect x="163.41" y="518.00" width="1.4" height="0.7" fill="#9fd0bf"/>
<circle cx="179.735" cy="517.6" r="2.5" fill="#137a5c"/>
<rect x="179.04" y="516.60" width="1.4" height="0.7" fill="#9fd0bf"/>
<rect x="179.04" y="518.00" width="1.4" height="0.7" fill="#9fd0bf"/>
<circle cx="197.97" cy="517.6" r="2.5" fill="#137a5c"/>
<rect x="197.27" y="516.60" width="1.4" height="0.7" fill="#9fd0bf"/>
<rect x="197.27" y="518.00" width="1.4" height="0.7" fill="#9fd0bf"/>
<circle cx="216.20499999999998" cy="517.6" r="2.5" fill="#137a5c"/>
<rect x="215.50" y="516.60" width="1.4" height="0.7" fill="#9fd0bf"/>
<rect x="215.50" y="518.00" width="1.4" height="0.7" fill="#9fd0bf"/>
<rect x="159.5" y="515.6" width="4" height="4" fill="#c8102e"/>
<polygon points="159.4,519.39 163.6,519.39 161.5,515.61" fill="#1b5a9c"/>
<rect x="232.44" y="515.6" width="4" height="4" fill="#c8102e"/>
<polygon points="232.34,519.39 236.54,519.39 234.44,515.61" fill="#1b5a9c"/>
<rect x="305.38" y="515.6" width="4" height="4" fill="#c8102e"/>
<polygon points="305.28,519.39 309.48,519.39 307.38,515.61" fill="#1b5a9c"/>
<rect x="378.32" y="515.6" width="4" height="4" fill="#c8102e"/>
<polygon points="378.21999999999997,519.39 382.42,519.39 380.32,515.61" fill="#1b5a9c"/>
<text x="0" y="0" transform="translate(340.40,362.50) scale(1.0228,1)" style="font-size:7.5px;font-weight:bold;" fill="#000" stroke="#000" stroke-width="0.3">Mouse ID:</text>
<line x1="330" y1="369.5" x2="339.2" y2="369.5" stroke="#27b246" stroke-width="1.3" />
<g transform="translate(334.6,369.5) scale(1.18) translate(-334.6,-369.5)">
<circle cx="334.6" cy="369.5" r="2.25" fill="#27b246"/>
</g>
<text x="0" y="0" transform="translate(342.27,371.90) scale(0.9504,1)" style="font-size:7.3px;" fill="#111111" stroke="#111111" stroke-width="0.2">WT BDD-FVIII</text>
<line x1="330" y1="378.4" x2="339.2" y2="378.4" stroke="#c8102e" stroke-width="1.3" />
<g transform="translate(334.6,378.4) scale(1.18) translate(-334.6,-378.4)">
<rect x="332.55" y="376.34999999999997" width="4.1" height="4.1" fill="#c8102e"/>
</g>
<text x="0" y="0" transform="translate(342.28,380.50) scale(1.0694,1)" style="font-size:7.3px;" fill="#111111" stroke="#111111" stroke-width="0.2">N41Q</text>
<line x1="330" y1="387.3" x2="339.2" y2="387.3" stroke="#2a66a8" stroke-width="1.3" />
<g transform="translate(334.6,387.3) scale(1.18) translate(-334.6,-387.3)">
<polygon points="332.35,389.325 336.85,389.325 334.6,385.27500000000003" fill="#1b5a9c"/>
</g>
<text x="0" y="0" transform="translate(341.68,389.20) scale(1.0589,1)" style="font-size:7.3px;" fill="#111111" stroke="#111111" stroke-width="0.2">N239Q</text>
<line x1="330" y1="397.9" x2="339.2" y2="397.9" stroke="#f7941d" stroke-width="1.3" />
<g transform="translate(334.6,397.9) scale(1.18) translate(-334.6,-397.9)">
<polygon points="332.35,395.875 336.85,395.875 334.6,399.92499999999995" fill="#f7941d"/>
</g>
<text x="0" y="0" transform="translate(342.29,400.00) scale(1.0517,1)" style="font-size:7.3px;" fill="#111111" stroke="#111111" stroke-width="0.2">N1810Q</text>
<line x1="330" y1="407.3" x2="339.2" y2="407.3" stroke="#53287f" stroke-width="1.3" />
<g transform="translate(334.6,407.3) scale(1.18) translate(-334.6,-407.3)">
<polygon points="334.6,404.5 336.90000000000003,407.3 334.6,410.1 332.3,407.3" fill="#53287f"/>
</g>
<text x="0" y="0" transform="translate(342.28,408.90) scale(1.0609,1)" style="font-size:7.3px;" fill="#111111" stroke="#111111" stroke-width="0.2">N2118Q</text>
<line x1="330" y1="416.1" x2="339.2" y2="416.1" stroke="#1e8a6a" stroke-width="1.3" />
<circle cx="334.6" cy="416.1" r="2.8" fill="#137a5c"/>
<rect x="333.90" y="415.10" width="1.4" height="0.7" fill="#9fd0bf"/>
<rect x="333.90" y="416.50" width="1.4" height="0.7" fill="#9fd0bf"/>
<text x="0" y="0" transform="translate(342.37,417.80) scale(0.9766,1)" style="font-size:7.3px;" fill="#111111" stroke="#111111" stroke-width="0.2">Untreated</text>
<rect x="0" y="0" width="1.3" height="548" fill="#000"/>
<rect x="0" y="0" width="520" height="1.15" fill="#000"/>
<rect x="518.8" y="0" width="1.2" height="548" fill="#000"/>
<rect x="0" y="546.6" width="520" height="1.4" fill="#000"/>
</svg>
</body></html>
